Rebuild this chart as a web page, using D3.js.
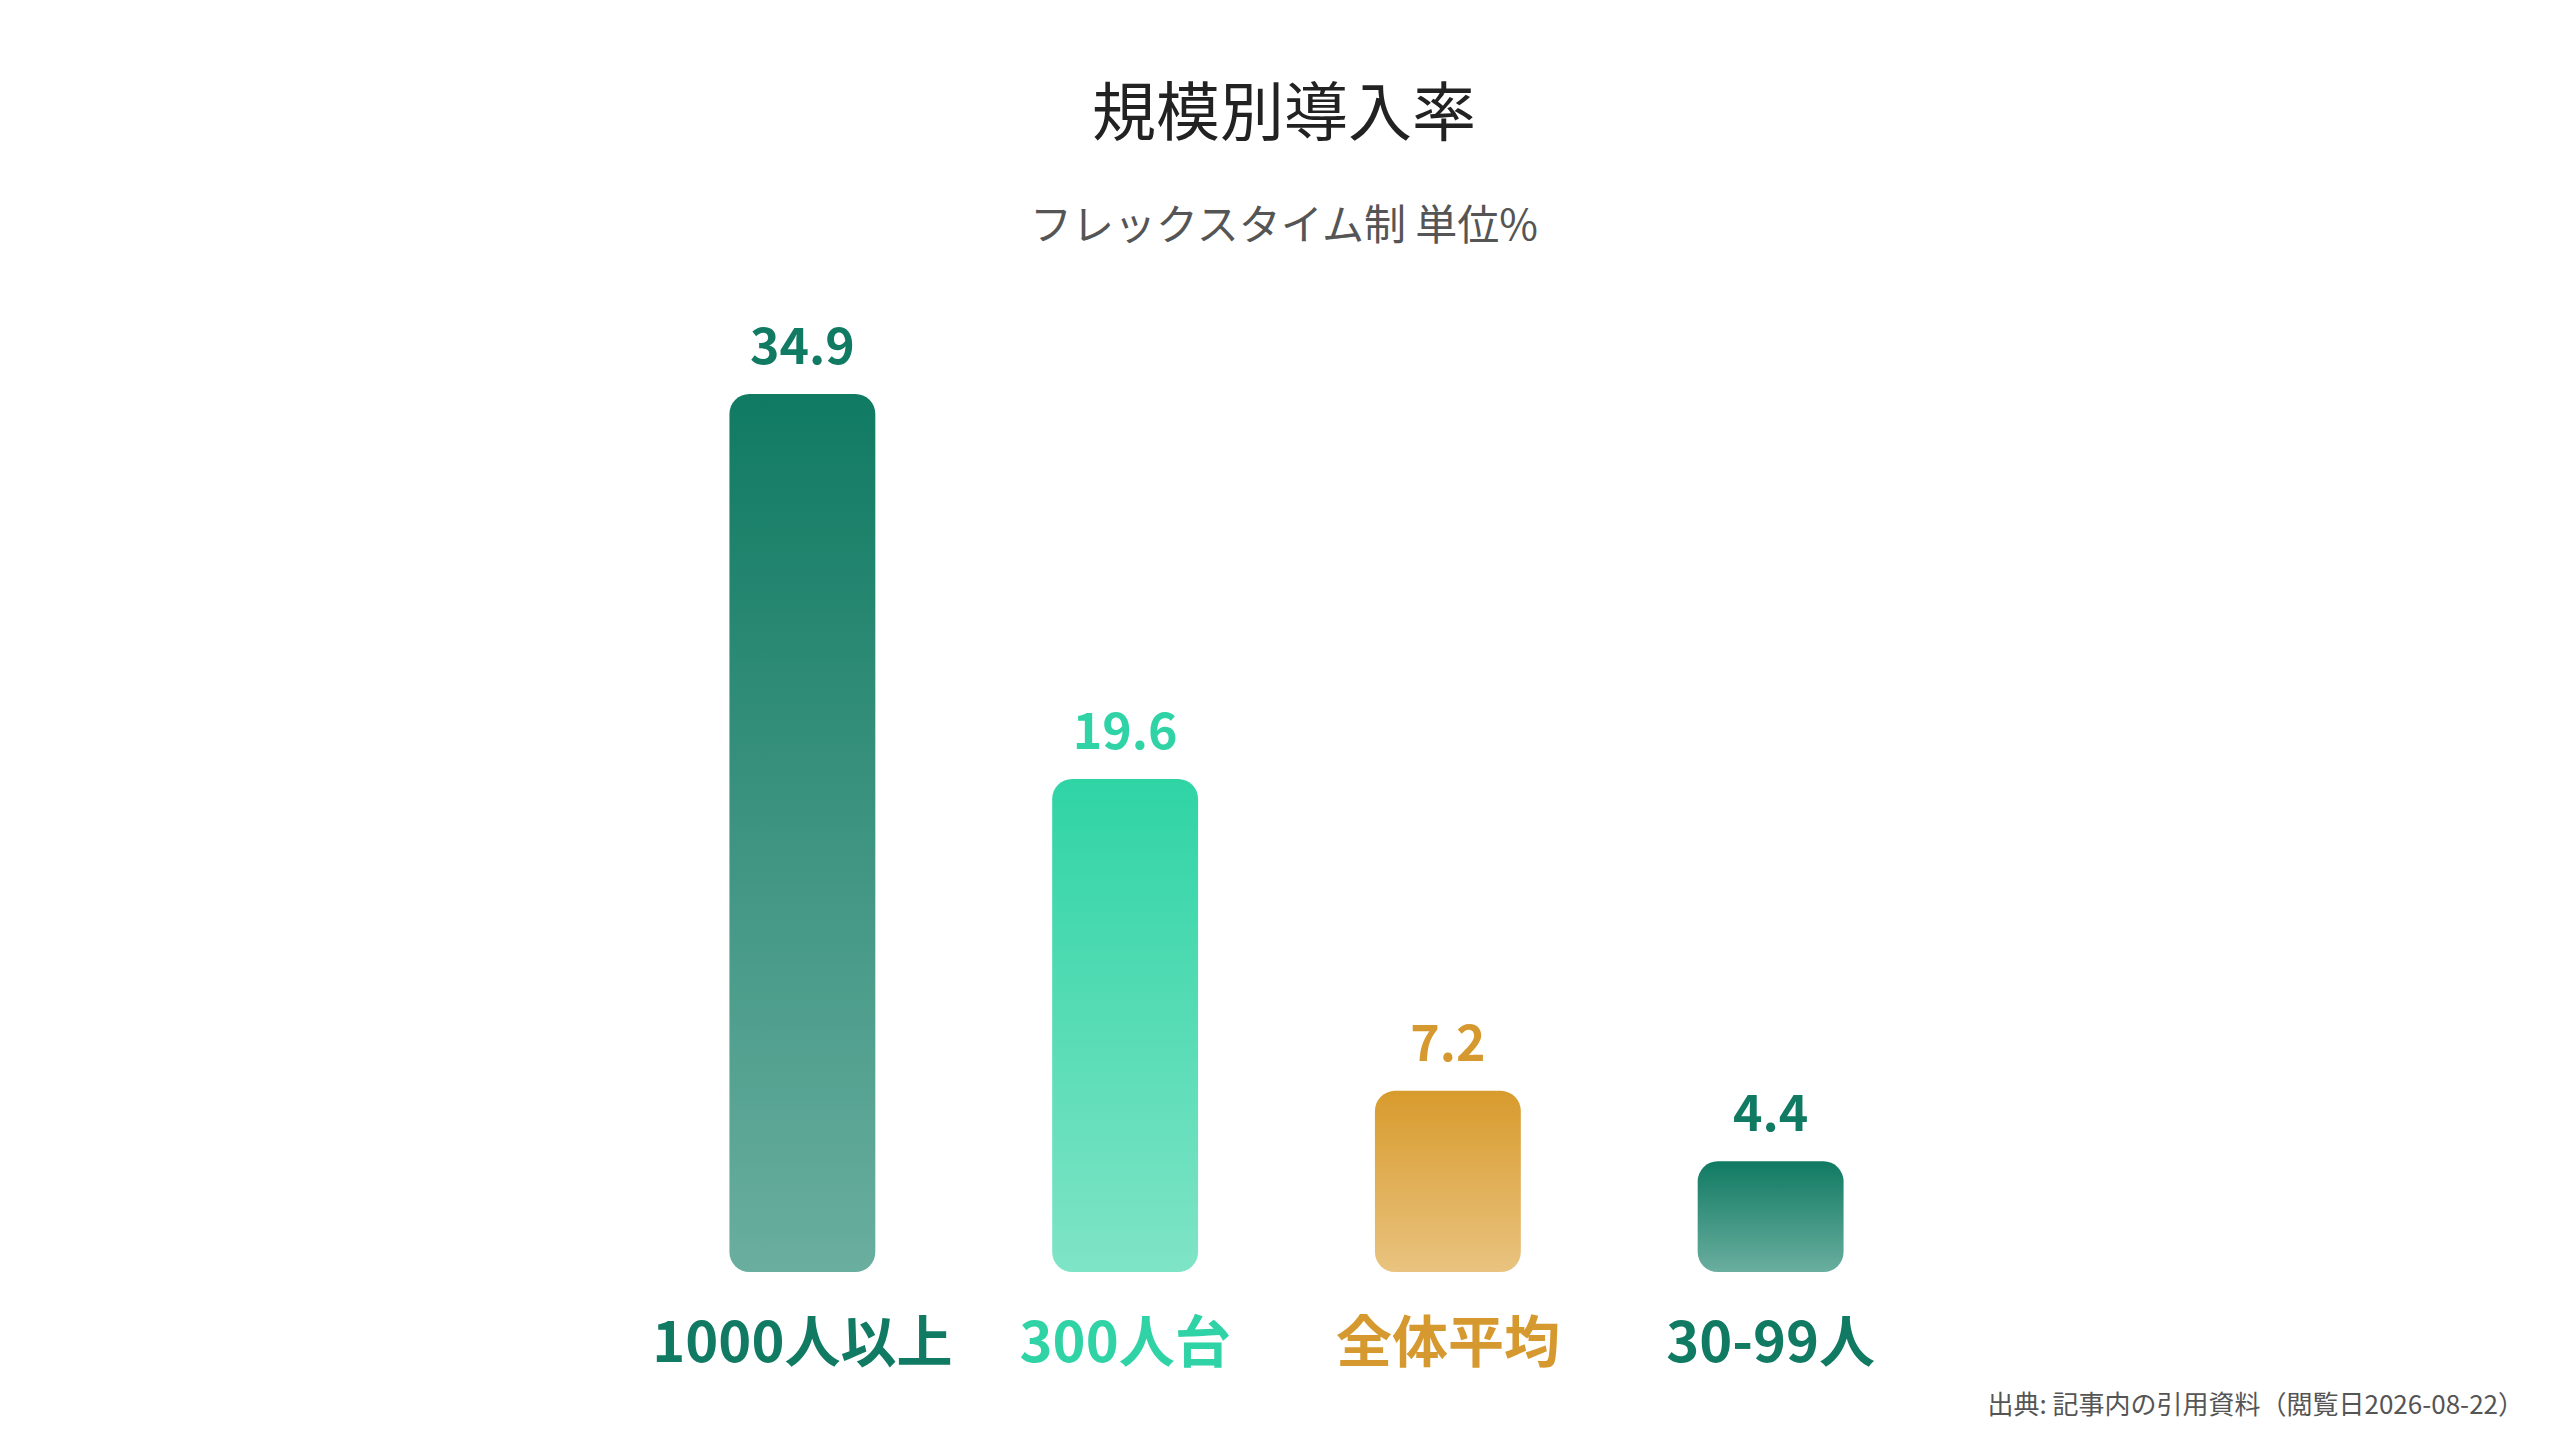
<!DOCTYPE html>
<html><head><meta charset="utf-8">
<script src="https://cdn.jsdelivr.net/npm/d3@7"></script>
<style>body{margin:0;background:#fff}</style></head>
<body><svg id="c" width="2560" height="1440"></svg>
<script>
const categories = ["1000人以上","300人台","全体平均","30-99人"];
const values = [34.9, 19.6, 7.2, 4.4];
const colorsTop = ["#107a62","#2fd4a5","#d89b2d","#107a62"];
const colorsBottom = ["#6aae9f","#7fe4c6","#e9c380","#6aae9f"];
const labelColors = ["#117a62","#2fd3a5","#d6992f","#117a62"];

const svg = d3.select("#c");
const font = "'Noto Sans CJK JP','Noto Sans',sans-serif";
const x = d3.scaleBand().domain(categories).range([641, 1932]).paddingInner(0.548).paddingOuter(0.274);
const y = d3.scaleLinear().domain([0, 34.9]).range([1272, 394]);

const defs = svg.append("defs");
categories.forEach((c,i)=>{
  const g = defs.append("linearGradient").attr("id","g"+i).attr("x1",0).attr("y1",0).attr("x2",0).attr("y2",1);
  g.append("stop").attr("offset","0%").attr("stop-color",colorsTop[i]);
  g.append("stop").attr("offset","100%").attr("stop-color",colorsBottom[i]);
});

svg.append("text").attr("x",1284).attr("y",135).attr("text-anchor","middle")
  .attr("font-family",font).attr("font-size",64).attr("fill","#222").text("規模別導入率");
svg.append("text").attr("x",1284).attr("y",240).attr("text-anchor","middle")
  .attr("font-family",font).attr("font-size",42).attr("fill","#555").text("フレックスタイム制 単位%");

svg.selectAll("rect.bar").data(values).join("rect").attr("class","bar")
  .attr("x",(d,i)=>x(categories[i])).attr("width",x.bandwidth())
  .attr("y",d=>y(d)).attr("height",d=>y(0)-y(d))
  .attr("rx",20).attr("fill",(d,i)=>`url(#g${i})`);

svg.selectAll("text.val").data(values).join("text").attr("class","val")
  .attr("x",(d,i)=>x(categories[i])+x.bandwidth()/2).attr("y",d=>y(d)-30)
  .attr("text-anchor","middle").attr("font-family",font).attr("font-weight",700)
  .attr("font-size",50).attr("fill",(d,i)=>labelColors[i]).text(d=>d.toFixed(1));

svg.selectAll("text.cat").data(categories).join("text").attr("class","cat")
  .attr("x",d=>x(d)+x.bandwidth()/2).attr("y",1362)
  .attr("text-anchor","middle").attr("font-family",font).attr("font-weight",700)
  .attr("font-size",56).attr("fill",(d,i)=>labelColors[i]).text(d=>d);

svg.append("text").attr("x",2524).attr("y",1414).attr("text-anchor","end")
  .attr("font-family",font).attr("font-size",26).attr("fill","#555")
  .text("出典: 記事内の引用資料（閲覧日2026-08-22）");
</script></body></html>
